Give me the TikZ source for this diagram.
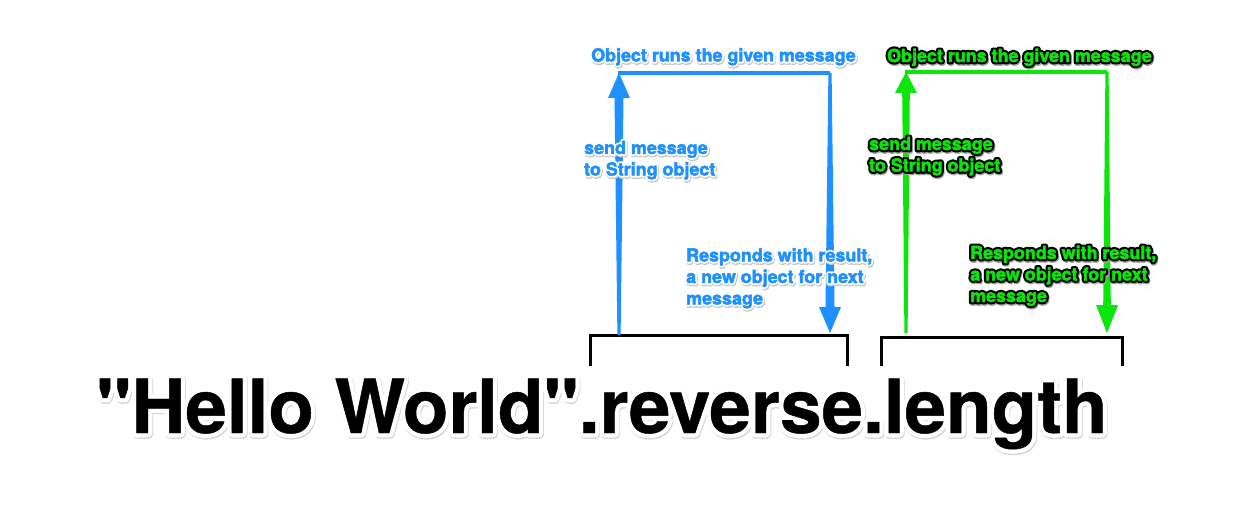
\documentclass[tikz,border=0pt]{standalone}
\usepackage{fontspec}
\usetikzlibrary{calc}
\newfontfamily\hv{TeX Gyre Heros}
\definecolor{msgblue}{RGB}{30,144,255}
\definecolor{msggreen}{RGB}{10,230,10}
\newcommand\strokeon[1]{\special{pdf:literal direct 2 Tr #1 w 1 j 1 J}}
\newcommand\strokeoff{\special{pdf:literal direct 0 Tr}}
% tapered vertical arrow: #1 tail, #2 tip, #3 colour, #4 signed head length, #5 shaft half width near head
\newcommand\taperarrow[5]{%
  \fill[#3] let \p1=(#1), \p2=(#2) in
    (\x1-1.6pt,\y1) -- (\x2-#5,\y2#4) -- (\x2-11pt,\y2#4) -- (\x2,\y2)
    -- (\x2+11pt,\y2#4) -- (\x2+#5,\y2#4) -- (\x1+1.6pt,\y1) -- cycle;}
% label with shadow, halo and fill copies
\newcommand\halolabel[8]{%
  \node[#3, stroked={#4}{#6}] (#1-shadow) at ([shift={(0.8,1.4)}]#2) {#8};
  \node[#3, stroked={#5}{#6}] (#1-halo) at (#2) {#8};
  \node[#3, stroked={#7}{0.45}] (#1) at (#2) {#8};}
\tikzset{
  stroked/.style 2 args={text=#1, execute at begin node={\strokeon{#2}}, execute at end node={\strokeoff}},
  lbl/.style={font=\hv\bfseries\fontsize{17.9}{21.5}\selectfont, inner sep=0pt, align=left, anchor=base west},
  bigtext/.style={font=\hv\bfseries\fontsize{74.6}{80}\selectfont, inner sep=0pt, anchor=base west},
  bracket/.style={draw=black, line width=3pt, line join=miter},
  toplink/.style={line width=3.2pt},
}
\begin{document}
\begin{tikzpicture}[x=1pt,y=-1pt]
\useasboundingbox (0,0) rectangle (1249,505);
\fill[white] (0,0) rectangle (1249,505);

% brackets
\coordinate (lb1) at (590,366); \coordinate (lb2) at (590,335);
\coordinate (lb3) at (847,335); \coordinate (lb4) at (847,366);
\coordinate (rb1) at (881,366); \coordinate (rb2) at (881,337);
\coordinate (rb3) at (1122,337); \coordinate (rb4) at (1122,366);
\draw[bracket] (lb1) -- (lb2) -- (lb3) -- (lb4);
\draw[bracket] (rb1) -- (rb2) -- (rb3) -- (rb4);

% blue arrows
\coordinate (bupTail) at (619,335); \coordinate (bupTip) at (619,73);
\coordinate (bCorner) at (830,73); \coordinate (bdownTip) at (830,333);
\draw[msgblue, toplink] ([xshift=-1.5]bupTip) -- (bCorner);
\taperarrow{bupTail}{bupTip}{msgblue}{-25pt}{4.5pt}
\taperarrow{bCorner}{bdownTip}{msgblue}{+26pt}{4.5pt}

% green arrows
\coordinate (gupTail) at (906,333); \coordinate (gupTip) at (906,72);
\coordinate (gCorner) at (1107,72); \coordinate (gdownTip) at (1107,333);
\draw[msggreen, toplink] ([xshift=-1.5]gupTip) -- (gCorner);
\taperarrow{gupTail}{gupTip}{msggreen}{-21pt}{3.8pt}
\taperarrow{gCorner}{gdownTip}{msggreen}{+28pt}{3.8pt}

% blue labels (base anchor = baseline of the last line)
\halolabel{bTop}{591,61.5}{lbl}{black!22}{white}{4}{msgblue}{Object runs the given message}
\halolabel{bSend}{584,175.5}{lbl}{black!22}{white}{4}{msgblue}{send message\\to String object}
\halolabel{bResp}{686,304.5}{lbl}{black!22}{white}{4}{msgblue}{Responds with result,\\a new object for next\\message}

% green labels
\halolabel{gTop}{887,62}{lbl}{black!35}{black}{4.8}{msggreen}{Object runs the given message}
\halolabel{gSend}{869,171.5}{lbl}{black!35}{black}{4.8}{msggreen}{send message\\to String object}
\halolabel{gResp}{970,302}{lbl}{black!35}{black}{4.8}{msggreen}{Responds with result,\\a new object for next\\message}

% code line
\halolabel{code}{96,433}{bigtext}{black!16}{white}{9}{black}{"Hello World".reverse.length}
\end{tikzpicture}
\end{document}
